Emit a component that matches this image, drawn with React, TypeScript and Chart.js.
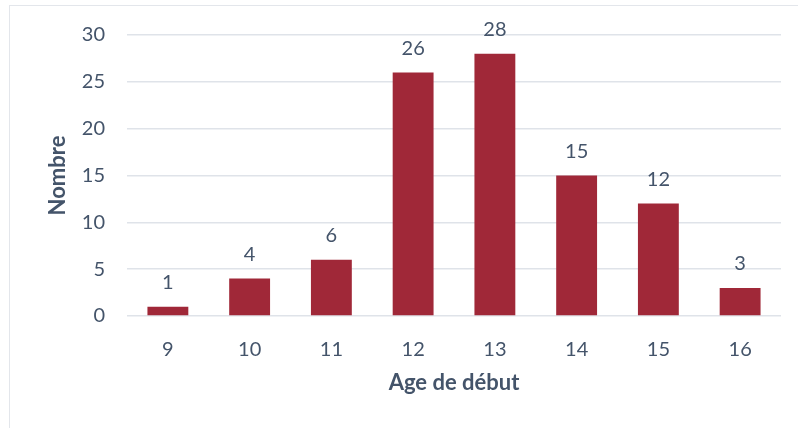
import React, { useEffect, useRef } from "react";
import { Chart, registerables } from "chart.js";

Chart.register(...registerables);

const categories = ["9", "10", "11", "12", "13", "14", "15", "16"];
const counts = [1, 4, 6, 26, 28, 15, 12, 3];
const yTicks = [0, 5, 10, 15, 20, 25, 30];

const TEXT = "#44546A";
const FONT = "Lato, 'Open Sans', sans-serif";

const labelPlugin = {
  id: "barLabels",
  afterDatasetsDraw(chart: any) {
    const ctx = chart.ctx;
    const meta = chart.getDatasetMeta(0);
    ctx.save();
    ctx.fillStyle = TEXT;
    ctx.font = `20px ${FONT}`;
    ctx.textAlign = "center";
    ctx.textBaseline = "middle";
    meta.data.forEach((el: any, i: number) => {
      ctx.fillText(String(chart.data.datasets[0].data[i]), el.x, el.y - 24);
    });
    ctx.restore();
  },
};

export default function App() {
  const ref = useRef<HTMLCanvasElement | null>(null);
  useEffect(() => {
    if (!ref.current) return;
    const chart = new Chart(ref.current, {
      type: "bar",
      data: {
        labels: categories,
        datasets: [
          {
            data: counts,
            backgroundColor: "#A02838",
            borderWidth: 0,
            barPercentage: 0.5,
            categoryPercentage: 1,
          },
        ],
      },
      options: {
        animation: false,
        responsive: false,
        devicePixelRatio: 1,
        layout: { padding: { left: 45, right: 17, top: 35, bottom: 32 } },
        plugins: { legend: { display: false }, tooltip: { enabled: false } },
        scales: {
          x: {
            grid: { display: false },
            border: { display: false },
            ticks: { color: TEXT, font: { family: FONT, size: 20 }, padding: 14 },
            title: {
              display: true,
              text: "Age de début",
              color: TEXT,
              font: { family: FONT, size: 22, weight: "bold" },
              padding: 0,
            },
            afterFit: (s: any) => {
              s.height = 80;
            },
          },
          y: {
            min: 0,
            max: 30,
            afterBuildTicks: (s: any) => {
              s.ticks = yTicks.map((v) => ({ value: v }));
            },
            grid: { color: "#DFE3E9", lineWidth: 1.5, drawTicks: false },
            border: { display: false },
            ticks: { color: TEXT, font: { family: FONT, size: 20 }, padding: 22 },
            title: {
              display: true,
              text: "Nombre",
              color: TEXT,
              font: { family: FONT, size: 22, weight: "bold" },
              padding: 0,
            },
            afterFit: (s: any) => {
              s.width = 82;
            },
          },
        },
      },
      plugins: [labelPlugin],
    });
    return () => chart.destroy();
  }, []);
  return (
    <div style={{ position: "absolute", left: 0, top: 0, width: 798, height: 428, background: "#fff", overflow: "hidden" }}>
      <div
        style={{
          position: "absolute",
          left: 9,
          top: 5,
          width: 820,
          height: 440,
          border: "1.5px solid #E3E6EB",
        }}
      />
      <canvas ref={ref} width={798} height={428} style={{ position: "absolute", left: 0, top: 0 }} />
    </div>
  );
}
